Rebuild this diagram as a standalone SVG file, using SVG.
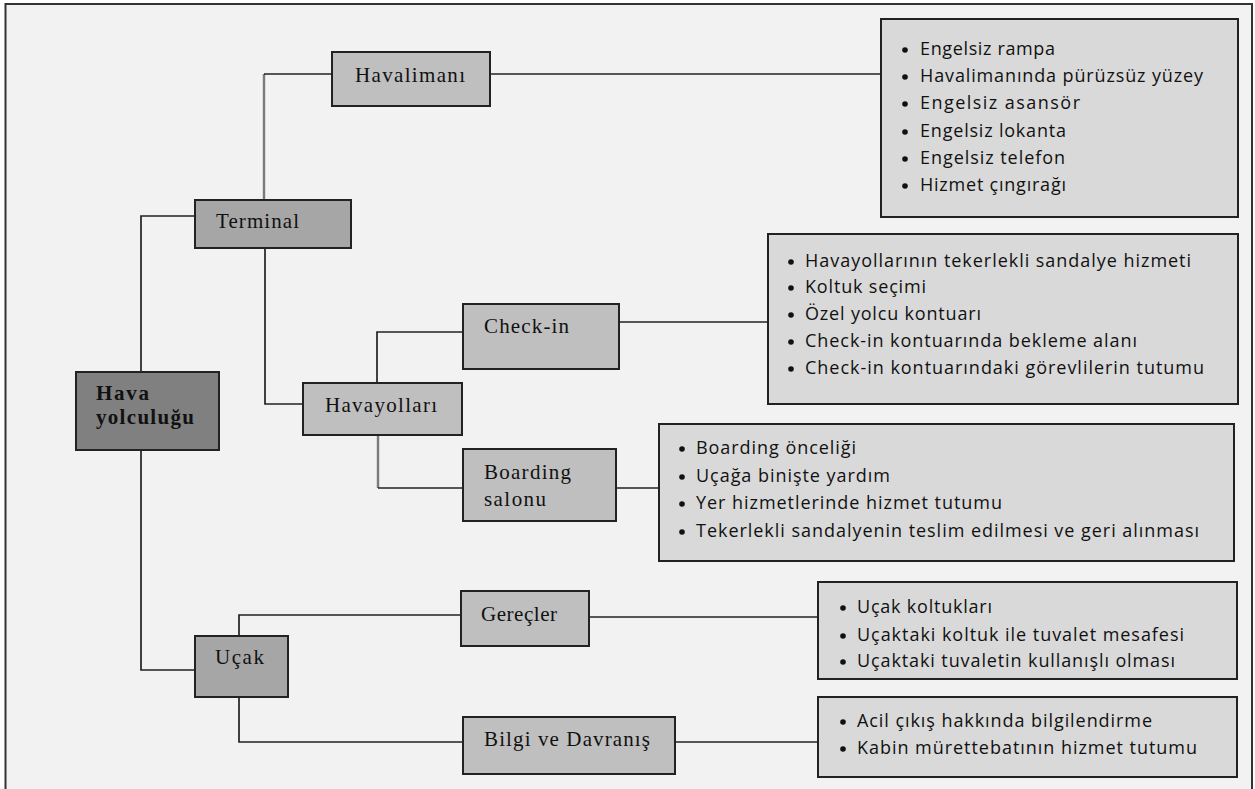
<svg xmlns="http://www.w3.org/2000/svg" width="1255" height="789" viewBox="0 0 1255 789">
  <style>
    .frame { fill: #f2f2f2; stroke: #333; stroke-width: 2; }
    .box { stroke: #222; stroke-width: 2; }
    .root { fill: #808080; }
    .mid { fill: #a6a6a6; }
    .sub { fill: #bfbfbf; }
    .list { fill: #d9d9d9; }
    .lbl { font-family: "Liberation Serif", "DejaVu Serif", serif; font-size: 21px; fill: #111; }
    .bold { font-weight: bold; }
    .item { font-family: "Open Sans", "Noto Sans", sans-serif; font-size: 18px; fill: #111; }
    .wire { fill: none; stroke: #222; stroke-width: 1.7; }
    .wire.gray { stroke: #7a7a7a; stroke-width: 2.4; }
    .dot { fill: #111; }
  </style>
  <rect width="1255" height="789" fill="#ffffff"/>
  <rect class="frame" x="5.5" y="4" width="1246.5" height="800"/>

  <g id="connectors">
    <path class="wire gray" d="M264 200 V74"/>
    <path class="wire" d="M264 74 H332"/>
    <path class="wire" d="M490 74 H881"/>
    <path class="wire" d="M141 372 V216 H195"/>
    <path class="wire" d="M141 450 V670 H195"/>
    <path class="wire" d="M265 248 V404 H303"/>
    <path class="wire" d="M377 383 V332 H463"/>
    <path class="wire" d="M619 322 H768"/>
    <path class="wire gray" d="M378 435 V488"/>
    <path class="wire" d="M378 488 H463"/>
    <path class="wire" d="M616 488 H659"/>
    <path class="wire" d="M239 636 V615 H461"/>
    <path class="wire" d="M589 617 H818"/>
    <path class="wire" d="M239 697 V742 H463"/>
    <path class="wire" d="M675 742 H818"/>
  </g>

  <g id="hava-yolculugu">
    <rect class="box root" x="76" y="372" width="143" height="78"/>
    <text class="lbl bold" x="96" y="400" textLength="53">Hava</text>
    <text class="lbl bold" x="96" y="424" textLength="98">yolculuğu</text>
  </g>

  <g id="terminal">
    <rect class="box mid" x="195" y="200" width="156" height="48"/>
    <text class="lbl" x="216" y="228" textLength="83">Terminal</text>
  </g>

  <g id="havalimani">
    <rect class="box sub" x="332" y="52" width="158" height="54"/>
    <text class="lbl" x="355" y="82" textLength="110">Havalimanı</text>
  </g>

  <g id="havalimani-list">
    <rect class="box list" x="881" y="19" width="357" height="198"/>
    <circle class="dot" cx="905" cy="50" r="2.8"/>
    <text class="item" x="920" y="55" textLength="135">Engelsiz rampa</text>
    <circle class="dot" cx="905" cy="77" r="2.8"/>
    <text class="item" x="920" y="82" textLength="283">Havalimanında pürüzsüz yüzey</text>
    <circle class="dot" cx="905" cy="104" r="2.8"/>
    <text class="item" x="920" y="109" textLength="160">Engelsiz asansör</text>
    <circle class="dot" cx="905" cy="132" r="2.8"/>
    <text class="item" x="920" y="137" textLength="146">Engelsiz lokanta</text>
    <circle class="dot" cx="905" cy="159" r="2.8"/>
    <text class="item" x="920" y="164" textLength="145">Engelsiz telefon</text>
    <circle class="dot" cx="905" cy="186" r="2.8"/>
    <text class="item" x="920" y="191" textLength="146">Hizmet çıngırağı</text>
  </g>

  <g id="havayollari">
    <rect class="box sub" x="303" y="383" width="159" height="52"/>
    <text class="lbl" x="325" y="412" textLength="112">Havayolları</text>
  </g>

  <g id="check-in">
    <rect class="box sub" x="463" y="304" width="156" height="65"/>
    <text class="lbl" x="484" y="333" textLength="85">Check-in</text>
  </g>

  <g id="check-in-list">
    <rect class="box list" x="768" y="234" width="470" height="170"/>
    <circle class="dot" cx="791" cy="262" r="2.8"/>
    <text class="item" x="805" y="267" textLength="386">Havayollarının tekerlekli sandalye hizmeti</text>
    <circle class="dot" cx="791" cy="288" r="2.8"/>
    <text class="item" x="805" y="293" textLength="121">Koltuk seçimi</text>
    <circle class="dot" cx="791" cy="315" r="2.8"/>
    <text class="item" x="805" y="320" textLength="176">Özel yolcu kontuarı</text>
    <circle class="dot" cx="791" cy="342" r="2.8"/>
    <text class="item" x="805" y="347" textLength="332">Check-in kontuarında bekleme alanı</text>
    <circle class="dot" cx="791" cy="369" r="2.8"/>
    <text class="item" x="805" y="374" textLength="399">Check-in kontuarındaki görevlilerin tutumu</text>
  </g>

  <g id="boarding-salonu">
    <rect class="box sub" x="463" y="449" width="153" height="72"/>
    <text class="lbl" x="484" y="479" textLength="87">Boarding</text>
    <text class="lbl" x="484" y="506" textLength="62">salonu</text>
  </g>

  <g id="boarding-list">
    <rect class="box list" x="659" y="424" width="575" height="137"/>
    <circle class="dot" cx="682" cy="449" r="2.8"/>
    <text class="item" x="696" y="454" textLength="160">Boarding önceliği</text>
    <circle class="dot" cx="682" cy="477" r="2.8"/>
    <text class="item" x="696" y="482" textLength="194">Uçağa binişte yardım</text>
    <circle class="dot" cx="682" cy="504" r="2.8"/>
    <text class="item" x="696" y="509" textLength="306">Yer hizmetlerinde hizmet tutumu</text>
    <circle class="dot" cx="682" cy="532" r="2.8"/>
    <text class="item" x="696" y="537" textLength="503">Tekerlekli sandalyenin teslim edilmesi ve geri alınması</text>
  </g>

  <g id="ucak">
    <rect class="box mid" x="195" y="636" width="93" height="61"/>
    <text class="lbl" x="215" y="664" textLength="49">Uçak</text>
  </g>

  <g id="grecler">
    <rect class="box sub" x="461" y="591" width="128" height="55"/>
    <text class="lbl" x="481" y="621" textLength="76">Gereçler</text>
  </g>

  <g id="grecler-list">
    <rect class="box list" x="818" y="582" width="419" height="97"/>
    <circle class="dot" cx="843" cy="608" r="2.8"/>
    <text class="item" x="857" y="613" textLength="135">Uçak koltukları</text>
    <circle class="dot" cx="843" cy="636" r="2.8"/>
    <text class="item" x="857" y="641" textLength="327">Uçaktaki koltuk ile tuvalet mesafesi</text>
    <circle class="dot" cx="843" cy="662" r="2.8"/>
    <text class="item" x="857" y="667" textLength="318">Uçaktaki tuvaletin kullanışlı olması</text>
  </g>

  <g id="bilgi-davranis">
    <rect class="box sub" x="463" y="717" width="212" height="57"/>
    <text class="lbl" x="484" y="746" textLength="166">Bilgi ve Davranış</text>
  </g>

  <g id="bilgi-davranis-list">
    <rect class="box list" x="818" y="697" width="419" height="80"/>
    <circle class="dot" cx="843" cy="722" r="2.8"/>
    <text class="item" x="857" y="727" textLength="295">Acil çıkış hakkında bilgilendirme</text>
    <circle class="dot" cx="843" cy="749" r="2.8"/>
    <text class="item" x="857" y="754" textLength="340">Kabin mürettebatının hizmet tutumu</text>
  </g>
</svg>
